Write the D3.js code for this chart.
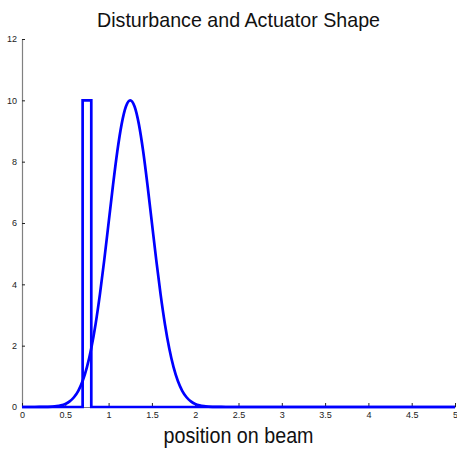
<!DOCTYPE html>
<html>
<head>
<meta charset="utf-8">
<script src="https://cdn.jsdelivr.net/npm/d3@7"></script>
<style>
  body { margin: 0; background: #fff; }
  text { font-family: "Liberation Sans", Arial, sans-serif; }
</style>
</head>
<body>
<svg id="chart" width="457" height="454"></svg>
<script>
// disturbance pulse (stairs)
const pulseX = [0, 0.7, 0.7, 0.8, 0.8, 5];
const pulseY = [0, 0, 10, 10, 0, 0];

// actuator shape
const shapeX = [0, 0.1, 0.2, 0.25, 0.3, 0.35, 0.4, 0.45, 0.5, 0.55, 0.6, 0.65, 0.7, 0.75, 0.8, 0.85, 0.9, 0.95,
  1.0, 1.05, 1.1, 1.15, 1.2, 1.25, 1.3, 1.35, 1.4, 1.45, 1.5, 1.55, 1.6, 1.65, 1.7, 1.75, 1.8, 1.85, 1.9,
  1.95, 2.0, 2.05, 2.1, 2.15, 2.2, 2.25, 2.3, 2.4, 2.5, 5];
const shapeY = [0, 0, 0.001, 0.003, 0.006, 0.013, 0.027, 0.054, 0.101, 0.183, 0.318, 0.529, 0.847, 1.299, 1.915, 2.709, 3.679, 4.797,
  6.004, 7.214, 8.322, 9.216, 9.798, 10, 9.798, 9.216, 8.322, 7.214, 6.004, 4.797, 3.679, 2.709, 1.915, 1.299, 0.847, 0.529, 0.318,
  0.183, 0.101, 0.054, 0.027, 0.013, 0.006, 0.003, 0.001, 0, 0, 0];

const xTicks = [0, 0.5, 1, 1.5, 2, 2.5, 3, 3.5, 4, 4.5, 5];
const yTicks = [0, 2, 4, 6, 8, 10, 12];

const titleText = "Disturbance and Actuator Shape";
const xLabel = "position on beam";

const margin = { top: 39, right: 2, bottom: 47, left: 22 };
const W = 457, H = 454;
const width = W - margin.left - margin.right,
      height = H - margin.top - margin.bottom;

const svg = d3.select("#chart");
const g = svg.append("g").attr("transform", "translate(" + margin.left + "," + margin.top + ")");

const x = d3.scaleLinear().domain([0, 5]).range([0, width]);
const y = d3.scaleLinear().domain([0, 12]).range([height, 0]);

// axes, ticks pointing inward like matlab
const yAxis = g.append("g")
  .call(d3.axisLeft(y).tickValues(yTicks).tickSizeInner(-3).tickSizeOuter(0).tickPadding(5));
const xAxis = g.append("g")
  .attr("transform", "translate(0," + height + ")")
  .call(d3.axisBottom(x).tickValues(xTicks).tickFormat(d3.format("")).tickSizeInner(-4).tickSizeOuter(0).tickPadding(5));

[xAxis, yAxis].forEach(ax => {
  ax.select(".domain").attr("stroke", "#808080").attr("stroke-width", 1.2);
  ax.selectAll(".tick line").attr("stroke", "#222");
  ax.selectAll(".tick text").attr("font-size", 9).attr("fill", "#222")
    .style("font-family", "'Liberation Sans', Arial, sans-serif");
});

const line = d3.line().x(d => x(d[0])).y(d => y(d[1]));

const shapeData = shapeX.map((v, i) => [v, shapeY[i]]);
const pulseData = pulseX.map((v, i) => [v, pulseY[i]]);

g.append("path")
  .datum(shapeData)
  .attr("fill", "none")
  .attr("stroke", "#0000ff")
  .attr("stroke-width", 2.7)
  .attr("d", line.curve(d3.curveMonotoneX));

g.append("path")
  .datum(pulseData)
  .attr("fill", "none")
  .attr("stroke", "#0000ff")
  .attr("stroke-width", 2.7)
  .attr("stroke-linejoin", "miter")
  .attr("d", d3.line().x(d => x(d[0])).y(d => y(d[1]))(pulseData));

// title and label (matlab's helvetica renders a bit narrower)
svg.append("text")
  .attr("x", margin.left + width / 2)
  .attr("y", 27)
  .attr("text-anchor", "middle")
  .attr("font-size", 21)
  .attr("textLength", 283)
  .attr("lengthAdjust", "spacingAndGlyphs")
  .attr("fill", "#111")
  .text(titleText);

svg.append("text")
  .attr("x", margin.left + width / 2)
  .attr("y", 443)
  .attr("text-anchor", "middle")
  .attr("font-size", 22)
  .attr("textLength", 150)
  .attr("lengthAdjust", "spacingAndGlyphs")
  .attr("fill", "#111")
  .text(xLabel);
</script>
</body>
</html>
